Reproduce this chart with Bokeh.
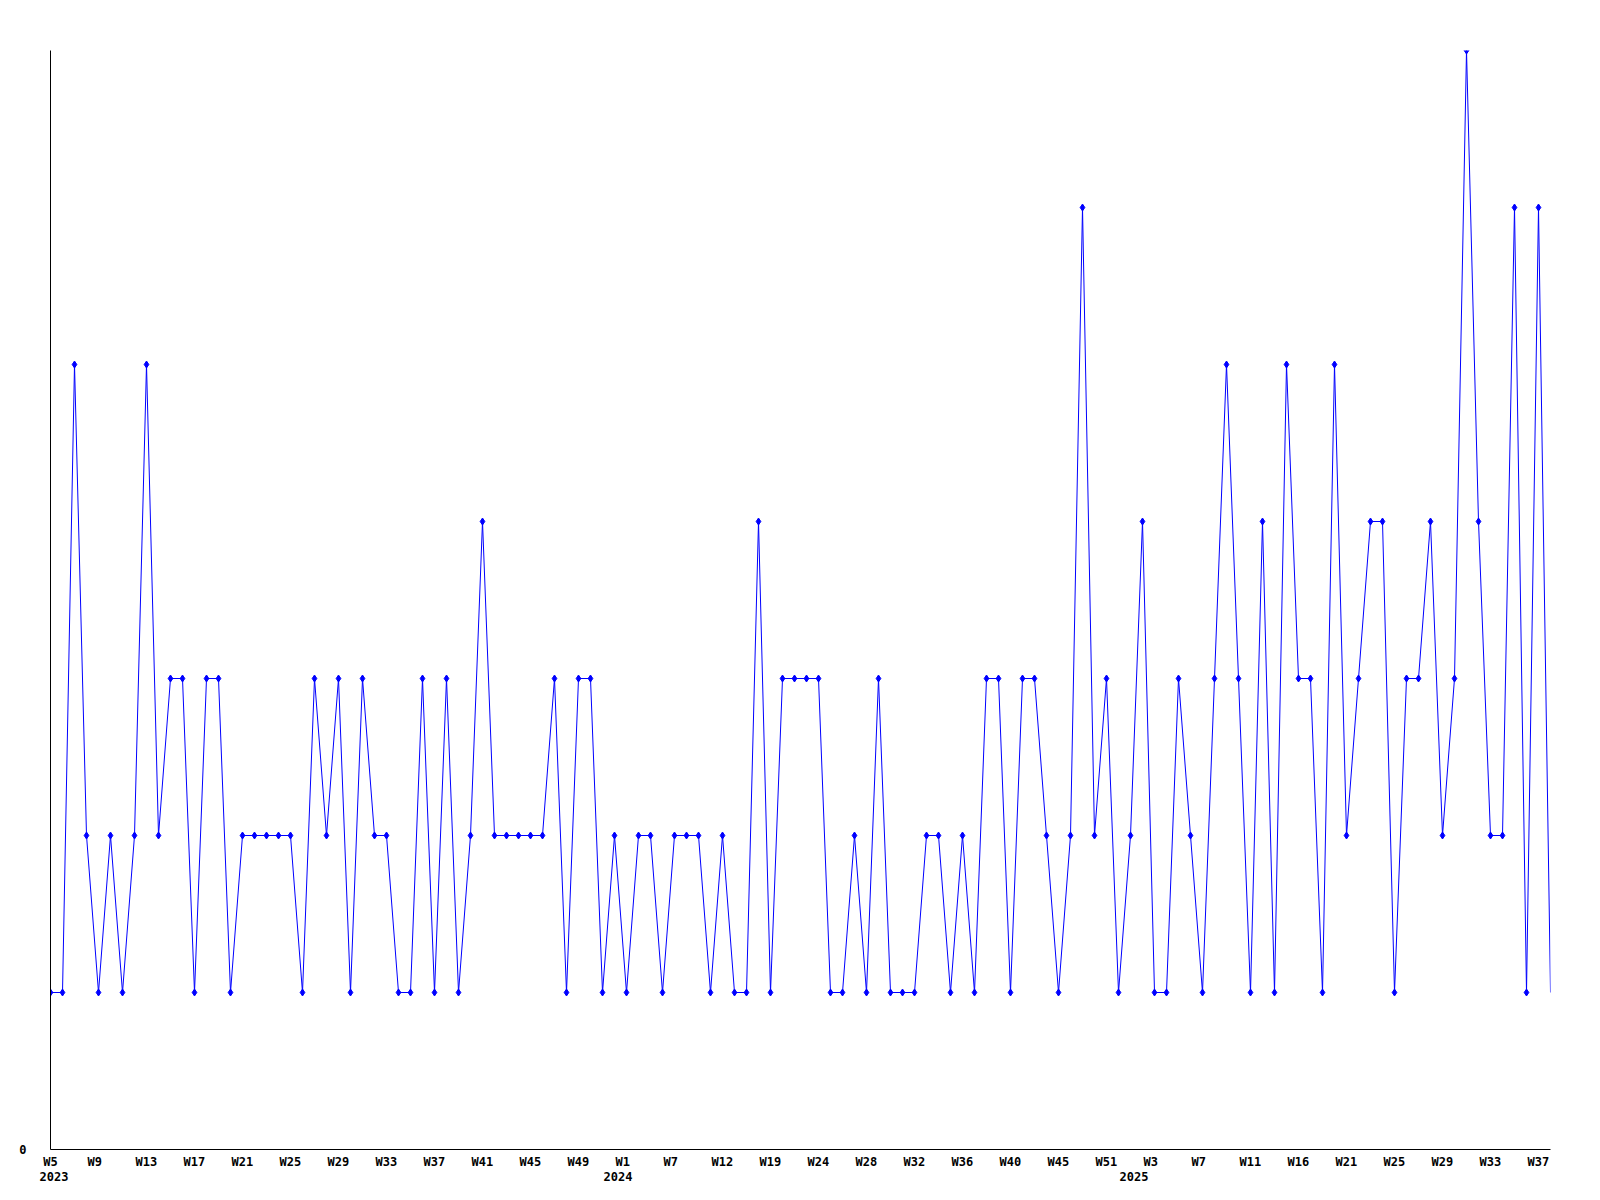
from bokeh.plotting import figure
from bokeh.models import Range1d, FixedTicker, LinearAxis
from bokeh.embed import file_html
from bokeh.resources import INLINE

# weekly counts (one value per week that has data)
counts = [
    1, 1, 5, 2, 1, 2, 1, 2, 5, 2,
    3, 3, 1, 3, 3, 1, 2, 2, 2, 2,
    2, 1, 3, 2, 3, 1, 3, 2, 2, 1,
    1, 3, 1, 3, 1, 2, 4, 2, 2, 2,
    2, 2, 3, 1, 3, 3, 1, 2, 1, 2,
    2, 1, 2, 2, 2, 1, 2, 1, 1, 4,
    1, 3, 3, 3, 3, 1, 1, 2, 1, 3,
    1, 1, 1, 2, 2, 1, 2, 1, 3, 3,
    1, 3, 3, 2, 1, 2, 6, 2, 3, 1,
    2, 4, 1, 1, 3, 2, 1, 3, 5, 3,
    1, 4, 1, 5, 3, 3, 1, 5, 2, 3,
    4, 4, 1, 3, 3, 4, 2, 3, 7, 4,
    2, 2, 6, 1, 6, 1,
]

# week tick labels, shown on every 4th point
week_tick_labels = [
    "W5", "W9", "W13", "W17", "W21", "W25", "W29", "W33", "W37", "W41",
    "W45", "W49", "W1", "W7", "W12", "W19", "W24", "W28", "W32", "W36",
    "W40", "W45", "W51", "W3", "W7", "W11", "W16", "W21", "W25", "W29",
    "W33", "W37",
]
tick_every = 4

# year labels and the point index where each one is written
year_labels = ["2023", "2024", "2025"]
year_label_index = [0, 47, 90]

x = list(range(len(counts)))

FRAME_W = 1500
FRAME_H = 1099
PX_PER_UNIT = FRAME_W / (len(counts) - 1)
CHAR_W = 7.22      # DejaVu Sans Mono bold 12px advance
LEFT_SHIFT = 11    # labels start 11px left of their point


def label_pos(idx, text):
    # labels in the original are left aligned; shift centered labels to match
    pos = idx + (len(text) * CHAR_W / 2 - LEFT_SHIFT) / PX_PER_UNIT
    return max(pos, 0.0)


p = figure(
    frame_width=FRAME_W, frame_height=FRAME_H,
    x_range=Range1d(0, len(counts) - 1), y_range=Range1d(0, 7),
    output_backend="svg", toolbar_location=None,
    x_axis_location=None,
    min_border_left=50, min_border_top=50, min_border_right=30, min_border_bottom=0,
    background_fill_color="white", border_fill_color="white",
)
p.outline_line_color = None
p.grid.visible = False

FONT = "DejaVu Sans Mono"

# y axis: only the zero label
ya = p.yaxis[0]
ya.ticker = FixedTicker(ticks=[0])
ya.major_label_overrides = {0: "0"}
ya.major_tick_line_color = None
ya.minor_tick_line_color = None
ya.major_tick_out = 0
ya.major_tick_in = 0
ya.major_label_standoff = 24
ya.axis_line_color = "black"
ya.axis_line_width = 1
ya.major_label_text_font = FONT
ya.major_label_text_font_style = "bold"
ya.major_label_text_font_size = "12px"
ya.major_label_text_color = "black"

# week axis
week_ticks = []
week_over = {}
for k, lab in enumerate(week_tick_labels):
    pos = label_pos(k * tick_every, lab)
    week_ticks.append(pos)
    week_over[pos] = lab

xa = LinearAxis(ticker=FixedTicker(ticks=week_ticks), major_label_overrides=week_over)
xa.major_tick_line_color = None
xa.minor_tick_line_color = None
xa.major_tick_out = 0
xa.major_tick_in = 0
xa.major_label_standoff = 5
xa.axis_line_color = "black"
xa.axis_line_width = 1
xa.major_label_text_font = FONT
xa.major_label_text_font_style = "bold"
xa.major_label_text_font_size = "12px"
xa.major_label_text_color = "black"
p.add_layout(xa, "below")

# year axis
year_ticks = []
year_over = {}
for lab, idx in zip(year_labels, year_label_index):
    pos = label_pos(idx, lab)
    year_ticks.append(pos)
    year_over[pos] = lab

ya2 = LinearAxis(ticker=FixedTicker(ticks=year_ticks), major_label_overrides=year_over)
ya2.axis_line_color = None
ya2.major_tick_line_color = None
ya2.minor_tick_line_color = None
ya2.major_tick_out = 0
ya2.major_tick_in = 0
ya2.major_label_standoff = 0
ya2.major_label_text_font = FONT
ya2.major_label_text_font_style = "bold"
ya2.major_label_text_font_size = "12px"
ya2.major_label_text_color = "black"
p.add_layout(ya2, "below")

BLUE = "#0000ff"
p.line(x, counts, line_color=BLUE, line_width=1)
p.scatter(x[:-1], counts[:-1], marker="diamond", size=7,
          fill_color=BLUE, line_color=BLUE, line_width=1)

open("out.html", "w").write(file_html(p, INLINE))
